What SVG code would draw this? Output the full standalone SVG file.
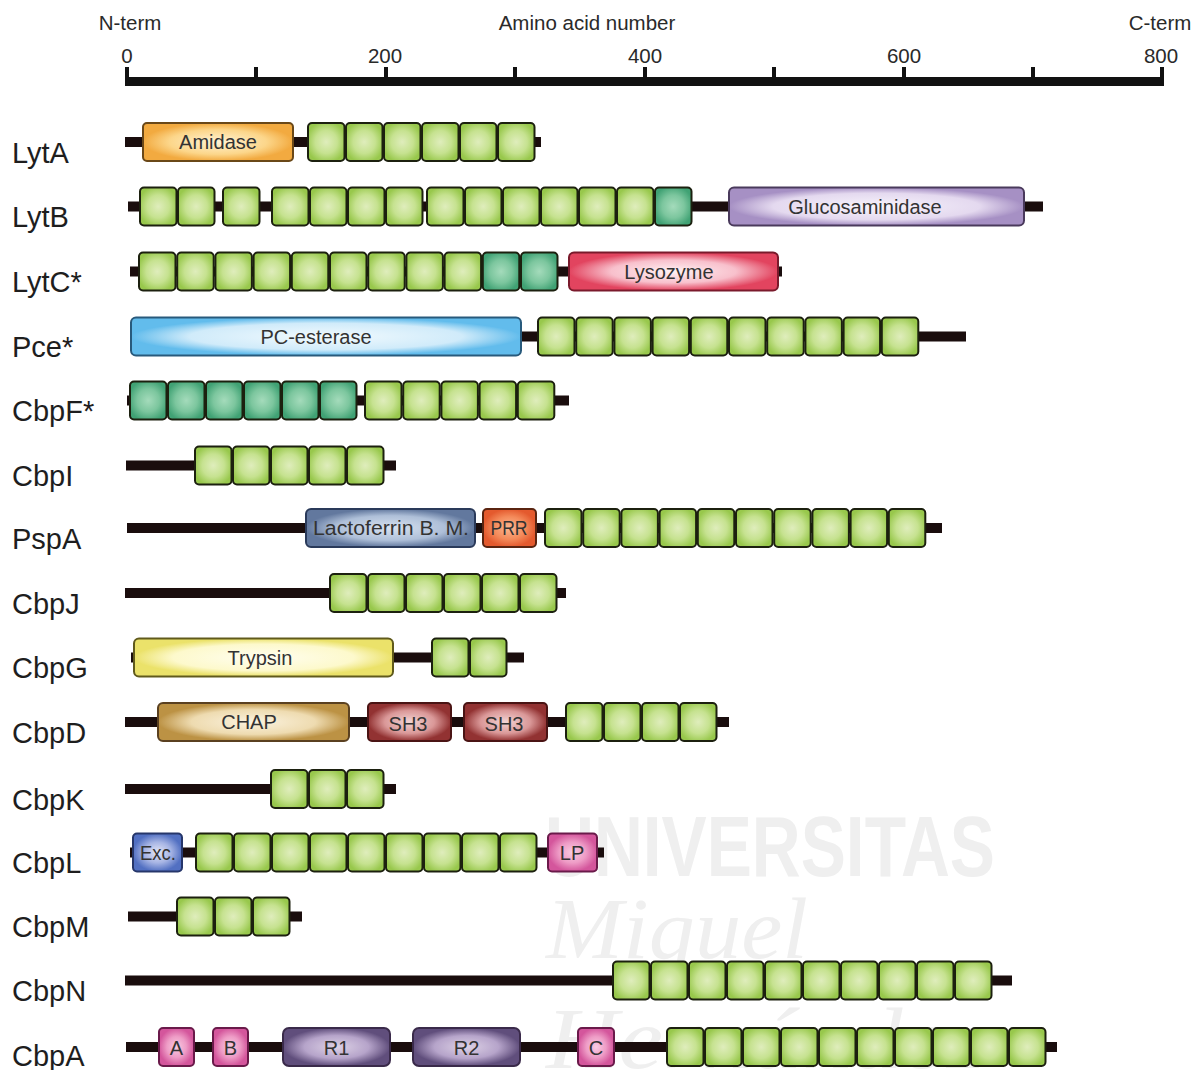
<svg xmlns="http://www.w3.org/2000/svg" xmlns:xlink="http://www.w3.org/1999/xlink" width="1195" height="1070" viewBox="0 0 1195 1070">
<style>
.lbl{font-family:"Liberation Sans",Arial,sans-serif;font-size:29px;fill:#1e1e1e}
.ax{font-family:"Liberation Sans",Arial,sans-serif;font-size:20.5px;fill:#2a2a2a}
.dt{font-family:"Liberation Sans",Arial,sans-serif;font-size:20px;fill:#333;text-anchor:middle}
.bb{fill:#1a0d0d}
.wm{fill:#efefef}
</style>
<defs>
<radialGradient id="gG" cx="50%" cy="50%" r="55%"><stop offset="0" stop-color="#dfedbc"/><stop offset="0.55" stop-color="#c6e290"/><stop offset="1" stop-color="#98c84c"/></radialGradient>
<radialGradient id="gT" cx="50%" cy="50%" r="55%"><stop offset="0" stop-color="#a4dbbb"/><stop offset="0.55" stop-color="#7cc69e"/><stop offset="1" stop-color="#40a274"/></radialGradient>
<radialGradient id="gAm" cx="50%" cy="50%" r="50%"><stop offset="0" stop-color="#fff3d4"/><stop offset="0.65" stop-color="#fcd68a"/><stop offset="1" stop-color="#f2aa40"/></radialGradient>
<radialGradient id="gGl" cx="50%" cy="50%" r="50%"><stop offset="0" stop-color="#f8f4fc"/><stop offset="0.7" stop-color="#e4d9ef"/><stop offset="1" stop-color="#a690c4"/></radialGradient>
<radialGradient id="gLy" cx="50%" cy="50%" r="50%"><stop offset="0" stop-color="#fff2f4"/><stop offset="0.6" stop-color="#f8c0cc"/><stop offset="1" stop-color="#e2445f"/></radialGradient>
<radialGradient id="gPc" cx="50%" cy="50%" r="50%"><stop offset="0" stop-color="#f2fafe"/><stop offset="0.7" stop-color="#d0ebfa"/><stop offset="1" stop-color="#62bcec"/></radialGradient>
<radialGradient id="gLf" cx="50%" cy="50%" r="50%"><stop offset="0" stop-color="#d8e2f0"/><stop offset="0.65" stop-color="#aebfd8"/><stop offset="1" stop-color="#62789e"/></radialGradient>
<radialGradient id="gPr" cx="50%" cy="50%" r="50%"><stop offset="0" stop-color="#fbb892"/><stop offset="0.6" stop-color="#f48a5a"/><stop offset="1" stop-color="#e45a2e"/></radialGradient>
<radialGradient id="gTr" cx="50%" cy="50%" r="50%"><stop offset="0" stop-color="#fffef0"/><stop offset="0.7" stop-color="#fdf9cc"/><stop offset="1" stop-color="#ebe26a"/></radialGradient>
<radialGradient id="gCh" cx="50%" cy="50%" r="50%"><stop offset="0" stop-color="#fbf3e0"/><stop offset="0.65" stop-color="#eedbb0"/><stop offset="1" stop-color="#bc9244"/></radialGradient>
<radialGradient id="gSh" cx="50%" cy="50%" r="50%"><stop offset="0" stop-color="#f2d4d4"/><stop offset="0.6" stop-color="#da9898"/><stop offset="1" stop-color="#923232"/></radialGradient>
<radialGradient id="gEx" cx="50%" cy="50%" r="50%"><stop offset="0" stop-color="#e4e6f6"/><stop offset="0.55" stop-color="#a6b4e4"/><stop offset="1" stop-color="#5270c2"/></radialGradient>
<radialGradient id="gPk" cx="50%" cy="50%" r="50%"><stop offset="0" stop-color="#f8cce2"/><stop offset="0.55" stop-color="#ee9cc6"/><stop offset="1" stop-color="#d4569c"/></radialGradient>
<radialGradient id="gR" cx="50%" cy="50%" r="50%"><stop offset="0" stop-color="#ddd2e6"/><stop offset="0.6" stop-color="#b6a4ca"/><stop offset="1" stop-color="#604e7c"/></radialGradient>
<rect id="gb" width="36.5" height="38" rx="4" fill="url(#gG)" stroke="#1c200f" stroke-width="2"/>
<rect id="tb" width="36.5" height="38" rx="4" fill="url(#gT)" stroke="#1c200f" stroke-width="2"/>
</defs>

<rect width="1195" height="1070" fill="#ffffff"/>

<g id="watermark">
<text class="wm" x="545" y="876" font-family="Liberation Sans,Arial,sans-serif" font-weight="bold" font-size="86" textLength="450" lengthAdjust="spacingAndGlyphs">UNIVERSITAS</text>
<text class="wm" x="546" y="958" font-family="Liberation Serif,serif" font-style="italic" font-size="86" textLength="262" lengthAdjust="spacingAndGlyphs">Miguel</text>
<text class="wm" x="546" y="1068" font-family="Liberation Serif,serif" font-style="italic" font-size="86" textLength="440" lengthAdjust="spacingAndGlyphs">Hernández</text>
</g>

<g id="axis">
<text class="ax" x="130" y="30" text-anchor="middle">N-term</text>
<text class="ax" x="587" y="30" text-anchor="middle">Amino acid number</text>
<text class="ax" x="1160" y="30" text-anchor="middle">C-term</text>
<text class="ax" x="127" y="63" text-anchor="middle">0</text>
<text class="ax" x="385" y="63" text-anchor="middle">200</text>
<text class="ax" x="645" y="63" text-anchor="middle">400</text>
<text class="ax" x="904" y="63" text-anchor="middle">600</text>
<text class="ax" x="1161" y="63" text-anchor="middle">800</text>
<rect x="125" y="77" width="1039" height="9" fill="#111"/>
<g fill="#111">
<rect x="125" y="67" width="4" height="12"/><rect x="254" y="67" width="4" height="12"/><rect x="384" y="67" width="4" height="12"/><rect x="513" y="67" width="4" height="12"/><rect x="643" y="67" width="4" height="12"/><rect x="772" y="67" width="4" height="12"/><rect x="902" y="67" width="4" height="12"/><rect x="1031" y="67" width="4" height="12"/><rect x="1160" y="67" width="4" height="12"/>
</g>
</g>

<g id="connectors"></g>

<g id="LytA">
<text class="lbl" x="12" y="163">LytA</text>
<rect class="bb" x="125" y="137" width="416" height="10"/>
<rect x="143" y="123" width="150" height="38" rx="4" fill="url(#gAm)" stroke="#6a4818" stroke-width="2"/>
<text class="dt" x="218" y="149">Amidase</text>
<use href="#gb" x="308" y="123"/><use href="#gb" x="346" y="123"/><use href="#gb" x="384" y="123"/><use href="#gb" x="422" y="123"/><use href="#gb" x="460" y="123"/><use href="#gb" x="498" y="123"/>
</g>

<g id="LytB">
<text class="lbl" x="12" y="227">LytB</text>
<rect class="bb" x="128" y="201.5" width="915" height="10"/>
<use href="#gb" x="140" y="187.5"/><use href="#gb" x="178" y="187.5"/><use href="#gb" x="223" y="187.5"/>
<use href="#gb" x="272" y="187.5"/><use href="#gb" x="310" y="187.5"/><use href="#gb" x="348" y="187.5"/><use href="#gb" x="386" y="187.5"/>
<use href="#gb" x="427" y="187.5"/><use href="#gb" x="465" y="187.5"/><use href="#gb" x="503" y="187.5"/><use href="#gb" x="541" y="187.5"/><use href="#gb" x="579" y="187.5"/><use href="#gb" x="617" y="187.5"/><use href="#tb" x="655" y="187.5"/>
<rect x="729" y="187.5" width="295" height="38" rx="5" fill="url(#gGl)" stroke="#4a3a5c" stroke-width="2"/>
<text class="dt" x="865" y="214">Glucosaminidase</text>
</g>

<g id="LytC">
<text class="lbl" x="12" y="292">LytC*</text>
<rect class="bb" x="130" y="266.5" width="652" height="10"/>
<use href="#gb" x="139" y="252.5"/><use href="#gb" x="177.2" y="252.5"/><use href="#gb" x="215.4" y="252.5"/><use href="#gb" x="253.6" y="252.5"/><use href="#gb" x="291.8" y="252.5"/><use href="#gb" x="330" y="252.5"/><use href="#gb" x="368.2" y="252.5"/><use href="#gb" x="406.4" y="252.5"/><use href="#gb" x="444.6" y="252.5"/>
<use href="#tb" x="482.8" y="252.5"/><use href="#tb" x="521" y="252.5"/>
<rect x="569" y="252.5" width="209" height="38" rx="5" fill="url(#gLy)" stroke="#7a1a2c" stroke-width="2"/>
<text class="dt" x="669" y="279">Lysozyme</text>
</g>

<g id="Pce">
<text class="lbl" x="12" y="357">Pce*</text>
<rect class="bb" x="130" y="331.5" width="836" height="10"/>
<rect x="131" y="317.5" width="390" height="38" rx="5" fill="url(#gPc)" stroke="#285a7c" stroke-width="2"/>
<text class="dt" x="316" y="344">PC-esterase</text>
<use href="#gb" x="538" y="317.5"/><use href="#gb" x="576.2" y="317.5"/><use href="#gb" x="614.4" y="317.5"/><use href="#gb" x="652.6" y="317.5"/><use href="#gb" x="690.8" y="317.5"/><use href="#gb" x="729" y="317.5"/><use href="#gb" x="767.2" y="317.5"/><use href="#gb" x="805.4" y="317.5"/><use href="#gb" x="843.6" y="317.5"/><use href="#gb" x="881.8" y="317.5"/>
</g>

<g id="CbpF">
<text class="lbl" x="12" y="421">CbpF*</text>
<rect class="bb" x="127" y="395.5" width="442" height="10"/>
<use href="#tb" x="130" y="381.5"/><use href="#tb" x="168" y="381.5"/><use href="#tb" x="206" y="381.5"/><use href="#tb" x="244" y="381.5"/><use href="#tb" x="282" y="381.5"/><use href="#tb" x="320" y="381.5"/>
<use href="#gb" x="365" y="381.5"/><use href="#gb" x="403.2" y="381.5"/><use href="#gb" x="441.4" y="381.5"/><use href="#gb" x="479.6" y="381.5"/><use href="#gb" x="517.8" y="381.5"/>
</g>

<g id="CbpI">
<text class="lbl" x="12" y="486">CbpI</text>
<rect class="bb" x="126" y="460.5" width="270" height="10"/>
<use href="#gb" x="195" y="446.5"/><use href="#gb" x="233" y="446.5"/><use href="#gb" x="271" y="446.5"/><use href="#gb" x="309" y="446.5"/><use href="#gb" x="347" y="446.5"/>
</g>

<g id="PspA">
<text class="lbl" x="12" y="549">PspA</text>
<rect class="bb" x="127" y="523" width="815" height="10"/>
<rect x="306" y="509" width="169" height="38" rx="5" fill="url(#gLf)" stroke="#2a3a5a" stroke-width="2"/>
<text class="dt" x="391" y="535" textLength="156" lengthAdjust="spacingAndGlyphs">Lactoferrin B. M.</text>
<rect x="483" y="509" width="53" height="38" rx="4" fill="url(#gPr)" stroke="#5a2410" stroke-width="2"/>
<text class="dt" x="509" y="535" textLength="37" lengthAdjust="spacingAndGlyphs">PRR</text>
<use href="#gb" x="545" y="509"/><use href="#gb" x="583.2" y="509"/><use href="#gb" x="621.4" y="509"/><use href="#gb" x="659.6" y="509"/><use href="#gb" x="697.8" y="509"/><use href="#gb" x="736" y="509"/><use href="#gb" x="774.2" y="509"/><use href="#gb" x="812.4" y="509"/><use href="#gb" x="850.6" y="509"/><use href="#gb" x="888.8" y="509"/>
</g>

<g id="CbpJ">
<text class="lbl" x="12" y="614">CbpJ</text>
<rect class="bb" x="125" y="588" width="441" height="10"/>
<use href="#gb" x="330" y="574"/><use href="#gb" x="368" y="574"/><use href="#gb" x="406" y="574"/><use href="#gb" x="444" y="574"/><use href="#gb" x="482" y="574"/><use href="#gb" x="520" y="574"/>
</g>

<g id="CbpG">
<text class="lbl" x="12" y="678">CbpG</text>
<rect class="bb" x="131" y="652.5" width="393" height="10"/>
<rect x="134" y="638.5" width="259" height="38" rx="5" fill="url(#gTr)" stroke="#605a1c" stroke-width="2"/>
<text class="dt" x="260" y="665">Trypsin</text>
<use href="#gb" x="432" y="638.5"/><use href="#gb" x="470" y="638.5"/>
</g>

<g id="CbpD">
<text class="lbl" x="12" y="743">CbpD</text>
<rect class="bb" x="125" y="717" width="604" height="10"/>
<rect x="158" y="703" width="191" height="38" rx="5" fill="url(#gCh)" stroke="#5a4020" stroke-width="2"/>
<text class="dt" x="249" y="729">CHAP</text>
<rect x="368" y="703" width="83" height="38" rx="4" fill="url(#gSh)" stroke="#4a1414" stroke-width="2"/>
<text class="dt" x="408" y="731">SH3</text>
<rect x="464" y="703" width="83" height="38" rx="4" fill="url(#gSh)" stroke="#4a1414" stroke-width="2"/>
<text class="dt" x="504" y="731">SH3</text>
<use href="#gb" x="566" y="703"/><use href="#gb" x="604" y="703"/><use href="#gb" x="642" y="703"/><use href="#gb" x="680" y="703"/>
</g>

<g id="CbpK">
<text class="lbl" x="12" y="810">CbpK</text>
<rect class="bb" x="125" y="784" width="271" height="10"/>
<use href="#gb" x="271" y="770"/><use href="#gb" x="309" y="770"/><use href="#gb" x="347" y="770"/>
</g>

<g id="CbpL">
<text class="lbl" x="12" y="873">CbpL</text>
<rect class="bb" x="130" y="847.5" width="474" height="10"/>
<rect x="133" y="833.5" width="49" height="38" rx="4" fill="url(#gEx)" stroke="#26366a" stroke-width="2"/>
<text class="dt" x="158" y="860" textLength="36" lengthAdjust="spacingAndGlyphs">Exc.</text>
<use href="#gb" x="196" y="833.5"/><use href="#gb" x="234" y="833.5"/><use href="#gb" x="272" y="833.5"/><use href="#gb" x="310" y="833.5"/><use href="#gb" x="348" y="833.5"/><use href="#gb" x="386" y="833.5"/><use href="#gb" x="424" y="833.5"/><use href="#gb" x="462" y="833.5"/><use href="#gb" x="500" y="833.5"/>
<rect x="548" y="833.5" width="49" height="38" rx="4" fill="url(#gPk)" stroke="#6a1a4a" stroke-width="2"/>
<text class="dt" x="572" y="860">LP</text>
</g>

<g id="CbpM">
<text class="lbl" x="12" y="937">CbpM</text>
<rect class="bb" x="128" y="911.5" width="174" height="10"/>
<use href="#gb" x="177" y="897.5"/><use href="#gb" x="215" y="897.5"/><use href="#gb" x="253" y="897.5"/>
</g>

<g id="CbpN">
<text class="lbl" x="12" y="1001">CbpN</text>
<rect class="bb" x="125" y="975.5" width="887" height="10"/>
<use href="#gb" x="613" y="961.5"/><use href="#gb" x="651" y="961.5"/><use href="#gb" x="689" y="961.5"/><use href="#gb" x="727" y="961.5"/><use href="#gb" x="765" y="961.5"/><use href="#gb" x="803" y="961.5"/><use href="#gb" x="841" y="961.5"/><use href="#gb" x="879" y="961.5"/><use href="#gb" x="917" y="961.5"/><use href="#gb" x="955" y="961.5"/>
</g>

<g id="CbpA">
<text class="lbl" x="12" y="1066">CbpA</text>
<rect class="bb" x="126" y="1042" width="931" height="10"/>
<rect x="159" y="1028" width="35" height="38" rx="4" fill="url(#gPk)" stroke="#6a1a4a" stroke-width="2"/>
<text class="dt" x="176.5" y="1055">A</text>
<rect x="213" y="1028" width="35" height="38" rx="4" fill="url(#gPk)" stroke="#6a1a4a" stroke-width="2"/>
<text class="dt" x="230.5" y="1055">B</text>
<rect x="283" y="1028" width="107" height="38" rx="6" fill="url(#gR)" stroke="#3a2a4a" stroke-width="2"/>
<text class="dt" x="336.5" y="1055">R1</text>
<rect x="413" y="1028" width="107" height="38" rx="6" fill="url(#gR)" stroke="#3a2a4a" stroke-width="2"/>
<text class="dt" x="466.5" y="1055">R2</text>
<rect x="578" y="1028" width="36" height="38" rx="4" fill="url(#gPk)" stroke="#6a1a4a" stroke-width="2"/>
<text class="dt" x="596" y="1055">C</text>
<use href="#gb" x="667" y="1028"/><use href="#gb" x="705" y="1028"/><use href="#gb" x="743" y="1028"/><use href="#gb" x="781" y="1028"/><use href="#gb" x="819" y="1028"/><use href="#gb" x="857" y="1028"/><use href="#gb" x="895" y="1028"/><use href="#gb" x="933" y="1028"/><use href="#gb" x="971" y="1028"/><use href="#gb" x="1009" y="1028"/>
</g>
</svg>
